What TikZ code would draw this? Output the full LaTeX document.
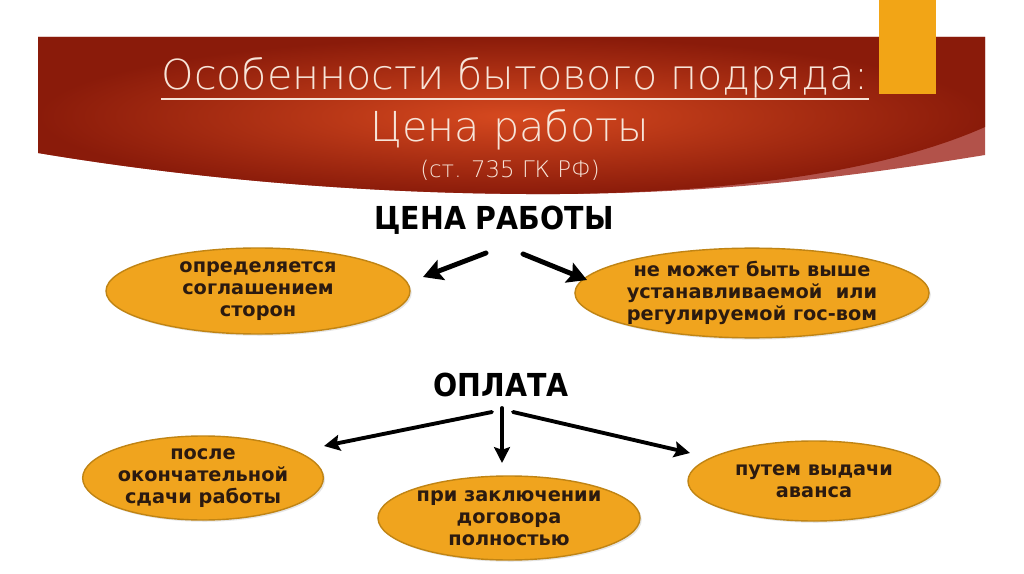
\documentclass[tikz,border=0pt]{standalone}
\usepackage{fontspec}
\setmainfont{DejaVu Sans}
\newfontfamily\titlefont{DejaVu Sans ExtraLight}
\newfontfamily\headfont{DejaVu Sans Condensed}
\usetikzlibrary{positioning, arrows.meta, shapes.geometric, shadows}

\definecolor{bandlight}{HTML}{D6491F}
\definecolor{banddark}{HTML}{8A1B0A}
\definecolor{bandstrip}{HTML}{B2524A}
\definecolor{barorange}{HTML}{F2A516}
\definecolor{ovalfill}{HTML}{F0A41E}
\definecolor{ovalline}{HTML}{C08414}
\definecolor{titletext}{HTML}{F7E4D8}
\definecolor{inktext}{HTML}{2B1A10}

\tikzset{
  oval/.style 2 args={ellipse, fill=ovalfill, draw=ovalline, line width=0.8pt,
    minimum width=#1*0.02cm, minimum height=#2*0.02cm, inner sep=0pt,
    align=center, text=inktext, font=\bfseries\fontsize{11}{12.5}\selectfont,
    drop shadow={opacity=0.2, shadow xshift=1pt, shadow yshift=-1pt}},
  heading/.style={font=\headfont\bfseries\fontsize{18}{21}\selectfont, inner sep=0pt},
  titleline/.style={text=titletext, inner sep=0pt},
  bigarrow/.style={line width=2.8pt, line cap=round,
    -{Stealth[length=11pt, width=12pt, inset=2pt]}},
  midarrow/.style={line width=2.2pt, line cap=round,
    -{Stealth[length=9pt, width=9pt, inset=1.5pt]}}
}

\begin{document}
\begin{tikzpicture}[x=0.02cm, y=-0.02cm]
\useasboundingbox (0,0) rectangle (1024,574);
\fill[white] (0,0) rectangle (1024,574);

% title band
\fill[bandstrip] (38,37) -- (985,37) -- (985,155)
  .. controls (880,172) and (740,193) .. (560,194)
  .. controls (380,195) and (200,180) .. (38,153) -- cycle;
\shade[inner color=bandlight, outer color=banddark] (38,37) -- (985,37) -- (985,127)
  .. controls (900,165) and (760,192) .. (560,194)
  .. controls (380,195) and (200,180) .. (38,153) -- cycle;
\fill[barorange] (879,0) rectangle (936,94);

\node[titleline, font=\titlefont\fontsize{23.5}{26}\selectfont] (t1) at (515,78) {Особенности бытового подряда:};
\draw[titletext, line width=1.1pt] (t1.south west) -- (t1.south east);
\node[titleline, font=\titlefont\fontsize{23.5}{26}\selectfont] (t2) at (510,130) {Цена работы};
\node[titleline, font=\titlefont\fontsize{13}{15}\selectfont] (t3) at (510,170) {(ст. 735 ГК РФ)};

% price
\node[heading] (cena) at (494,220) {ЦЕНА РАБОТЫ};
\node[oval={304}{86}] (soglas) at (258,291) {определяется\\соглашением\\сторон};
\node[oval={310}{86}] (gos) at (752,293) {не может быть выше\\устанавливаемой~~или\\регулируемой гос-вом};

\coordinate (c1s) at (486,253);
\coordinate (c1e) at (423,277);
\coordinate (c2s) at (523,254);
\coordinate (c2e) at (587,280);
\draw[bigarrow] (c1s) -- (c1e);
\draw[bigarrow] (c2s) -- (c2e);

% payment
\node[heading] (oplata) at (501,385) {ОПЛАТА};
\node[oval={240}{84}] (posle) at (203,478) {после\\окончательной\\сдачи работы};
\node[oval={262}{84}] (pri) at (509,518) {при заключении\\договора\\полностью};
\node[oval={252}{80}] (avans) at (814,481) {путем выдачи\\аванса};

\coordinate (o1s) at (492,412);
\coordinate (o1e) at (324,446);
\coordinate (o2s) at (502,408);
\coordinate (o2e) at (502,463);
\coordinate (o3s) at (513,412);
\coordinate (o3e) at (690,453);
\draw[midarrow] (o1s) -- (o1e);
\draw[midarrow] (o2s) -- (o2e);
\draw[midarrow] (o3s) -- (o3e);
\end{tikzpicture}
\end{document}
